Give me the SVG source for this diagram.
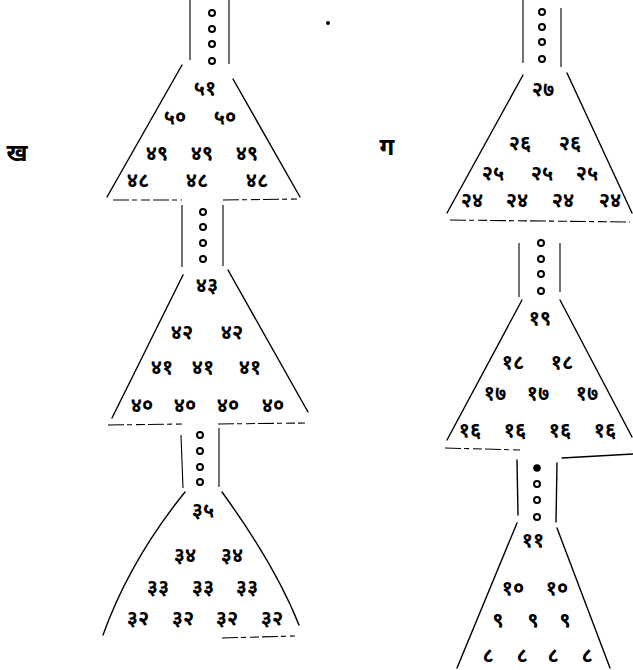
<svg xmlns="http://www.w3.org/2000/svg" width="633" height="670" viewBox="0 0 633 670">
<style>
.ln{fill:none;stroke:#000;stroke-width:1.4;stroke-linecap:round}
.tb{fill:none;stroke:#000;stroke-width:1.1}
.ds{fill:none;stroke:#000;stroke-width:1.1;stroke-dasharray:16 3 5 4 9 3}
.ring{fill:#fff;stroke:#000;stroke-width:2}
.num{font-family:"Noto Sans Devanagari","Noto Sans","DejaVu Sans",sans-serif;font-size:20px;font-weight:bold;fill:#000;text-anchor:middle}
.lab{font-family:"Noto Sans Devanagari","Noto Sans","DejaVu Sans",sans-serif;font-size:24px;font-weight:bold;fill:#000;text-anchor:middle}
</style>
<rect width="633" height="670" fill="#fff"/>
<g id="label-kha"><text class="lab" x="17" y="161">ख</text></g>
<g id="label-ga"><text class="lab" x="387" y="155">ग</text></g>
<circle cx="328" cy="23" r="2" fill="#000"/>

<g id="connectors">
  <path class="tb" d="M190,0 L190,60 M229,0 L229,64"/>
  <circle class="ring" cx="212" cy="13" r="3"/><circle class="ring" cx="212" cy="29" r="3"/><circle class="ring" cx="212" cy="44" r="3"/><circle class="ring" cx="212" cy="61" r="3"/>
  <path class="tb" d="M182,205 L182,267 M223,205 L223,266"/>
  <circle class="ring" cx="203" cy="212" r="3"/><circle class="ring" cx="203" cy="227" r="3"/><circle class="ring" cx="203" cy="243" r="3"/><circle class="ring" cx="203" cy="259" r="3"/>
  <path class="tb" d="M181,435 L183,488 M219,428 L219,487"/>
  <circle class="ring" cx="200" cy="435" r="3"/><circle class="ring" cx="200" cy="451" r="3"/><circle class="ring" cx="200" cy="467" r="3"/><circle class="ring" cx="200" cy="482" r="3"/>
  <path class="tb" d="M523,0 L523,63 M561,8 L561,67"/>
  <circle class="ring" cx="542" cy="12" r="3"/><circle class="ring" cx="542" cy="27" r="3"/><circle class="ring" cx="542" cy="42" r="3"/><circle class="ring" cx="542" cy="59" r="3"/>
  <path class="tb" d="M519,243 L519,297 M560,243 L560,292"/>
  <circle class="ring" cx="541" cy="243" r="3"/><circle class="ring" cx="541" cy="259" r="3"/><circle class="ring" cx="541" cy="274" r="3"/><circle class="ring" cx="541" cy="291" r="3"/>
  <path class="ln" d="M517,460 L518,515 M557,463 L556,522"/>
  <circle cx="537" cy="468" r="3.8" fill="#000"/><circle class="ring" cx="537" cy="484" r="3"/><circle class="ring" cx="537" cy="500" r="3"/><circle class="ring" cx="537" cy="517" r="3"/>
</g>

<g id="kha-1">
  <path class="ln" d="M182,65 L107,197 M233,79 L300,197"/>
  <path class="ds" d="M113,200 L182,200 M223,200 L297,199"/>
  <text class="num" x="205" y="95">५१</text>
  <text class="num" x="175" y="124">५०</text><text class="num" x="225" y="124">५०</text>
  <text class="num" x="157" y="160">४९</text><text class="num" x="202" y="160">४९</text><text class="num" x="247" y="160">४९</text>
  <text class="num" x="138" y="187">४८</text><text class="num" x="197" y="187">४८</text><text class="num" x="257" y="187">४८</text>
</g>
<g id="kha-2">
  <path class="ln" d="M183,275 L112,418 M228,270 L308,412"/>
  <path class="ds" d="M108,425 L182,424 M218,424 L305,423"/>
  <text class="num" x="207" y="292">४३</text>
  <text class="num" x="182" y="339">४२</text><text class="num" x="232" y="339">४२</text>
  <text class="num" x="162" y="374">४१</text><text class="num" x="203" y="374">४१</text><text class="num" x="250" y="374">४१</text>
  <text class="num" x="142" y="412">४०</text><text class="num" x="185" y="412">४०</text><text class="num" x="228" y="412">४०</text><text class="num" x="273" y="412">४०</text>
</g>
<g id="kha-3">
  <path class="ln" d="M185,492 Q130,560 103,635 M222,492 Q275,565 299,625"/>
  <path class="ds" d="M222,638 L295,636"/>
  <text class="num" x="203" y="517">३५</text>
  <text class="num" x="185" y="562">३४</text><text class="num" x="232" y="562">३४</text>
  <text class="num" x="158" y="594">३३</text><text class="num" x="203" y="594">३३</text><text class="num" x="247" y="594">३३</text>
  <text class="num" x="138" y="625">३२</text><text class="num" x="183" y="625">३२</text><text class="num" x="227" y="625">३२</text><text class="num" x="272" y="625">३२</text>
</g>

<g id="ga-1">
  <path class="ln" d="M523,75 L447,213 M567,73 L632,213"/>
  <path class="ds" d="M450,220 L630,222"/>
  <text class="num" x="543" y="96">२७</text>
  <text class="num" x="520" y="150">२६</text><text class="num" x="570" y="150">२६</text>
  <text class="num" x="493" y="180">२५</text><text class="num" x="542" y="180">२५</text><text class="num" x="587" y="180">२५</text>
  <text class="num" x="472" y="207">२४</text><text class="num" x="517" y="207">२४</text><text class="num" x="563" y="207">२४</text><text class="num" x="610" y="207">२४</text>
</g>
<g id="ga-2">
  <path class="ln" d="M522,300 L447,440 M560,300 L632,437"/>
  <path class="ds" d="M445,448 L520,450"/>
  <path class="ln" d="M562,458 L633,454"/>
  <text class="num" x="540" y="325">१९</text>
  <text class="num" x="513" y="369">१८</text><text class="num" x="562" y="369">१८</text>
  <text class="num" x="495" y="400">१७</text><text class="num" x="538" y="400">१७</text><text class="num" x="587" y="400">१७</text>
  <text class="num" x="470" y="437">१६</text><text class="num" x="515" y="437">१६</text><text class="num" x="560" y="437">१६</text><text class="num" x="605" y="437">१६</text>
</g>
<g id="ga-3">
  <path class="ln" d="M517,523 L457,668 M557,528 L610,668"/>
  <text class="num" x="533" y="547">११</text>
  <text class="num" x="513" y="595">१०</text><text class="num" x="557" y="595">१०</text>
  <text class="num" x="498" y="627">९</text><text class="num" x="533" y="627">९</text><text class="num" x="565" y="627">९</text>
  <text class="num" x="488" y="662">८</text><text class="num" x="522" y="662">८</text><text class="num" x="553" y="662">८</text><text class="num" x="587" y="662">८</text>
</g>
</svg>
